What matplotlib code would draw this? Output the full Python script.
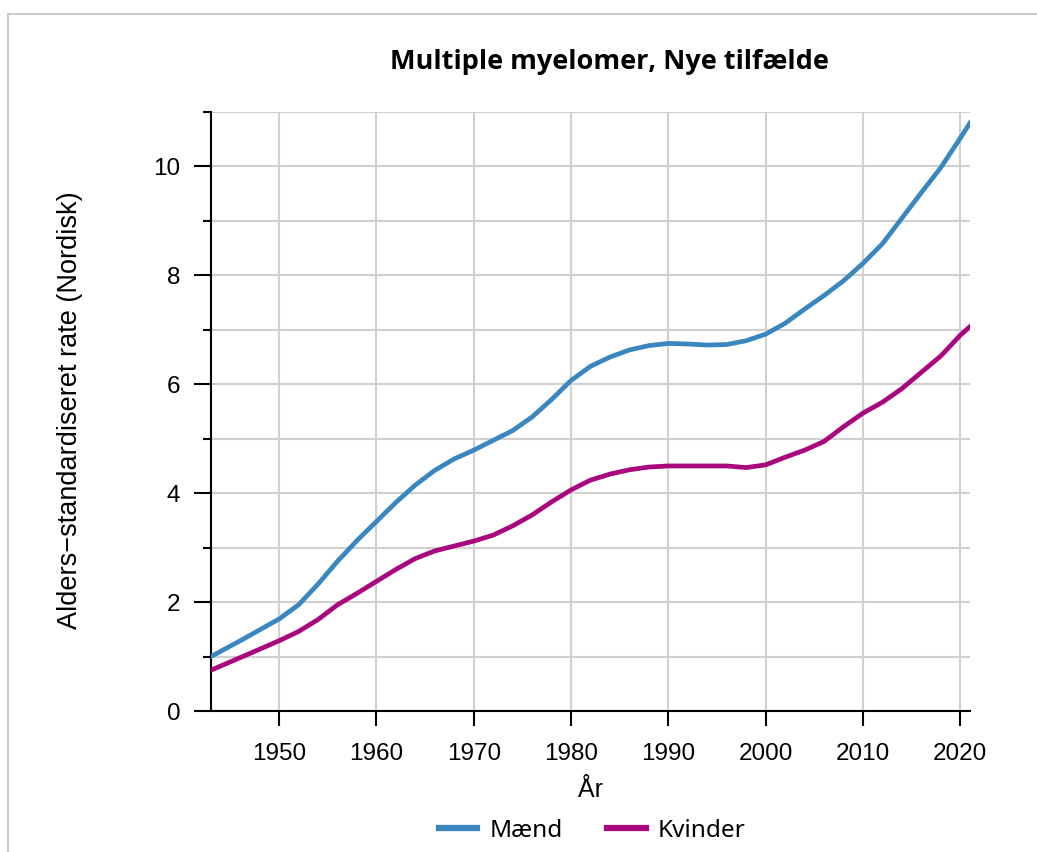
"""Multiple myelomer, nye tilfælde - age-standardised incidence rate, Denmark."""

import matplotlib.pyplot as plt
from matplotlib.lines import Line2D

# Smoothed age-standardised rates (Nordic standard)
years_m = [1943, 1946, 1950, 1952, 1954, 1956, 1958, 1960, 1962, 1964, 1966, 1968,
           1970, 1972, 1974, 1976, 1978, 1980, 1982, 1984, 1986, 1988, 1990, 1992,
           1994, 1996, 1998, 2000, 2002, 2004, 2006, 2008, 2010, 2012, 2014, 2016,
           2018, 2020, 2021]
maend = [1.00, 1.29, 1.69, 1.95, 2.33, 2.75, 3.13, 3.48, 3.83, 4.15, 4.42, 4.63,
         4.79, 4.97, 5.15, 5.40, 5.72, 6.07, 6.33, 6.50, 6.63, 6.71, 6.75, 6.74,
         6.72, 6.73, 6.80, 6.92, 7.12, 7.38, 7.63, 7.90, 8.22, 8.58, 9.05, 9.52,
         9.98, 10.52, 10.80]

years_k = years_m
kvinder = [0.75, 0.98, 1.29, 1.46, 1.68, 1.95, 2.16, 2.38, 2.60, 2.80, 2.94, 3.03,
           3.12, 3.23, 3.40, 3.60, 3.84, 4.06, 4.24, 4.35, 4.43, 4.48, 4.50, 4.50,
           4.50, 4.50, 4.47, 4.52, 4.66, 4.79, 4.95, 5.22, 5.47, 5.67, 5.92, 6.22,
           6.52, 6.90, 7.06]

blue = "#3a87c0"
purple = "#a8077e"
grid_col = "#d0d0d0"

fig = plt.figure(figsize=(10.37, 8.52), dpi=100)
ax = fig.add_axes([211 / 1037, 1 - 711 / 852, (970 - 211) / 1037, (711 - 112) / 852])

ax.plot(years_m, maend, color=blue, linewidth=3.4, solid_joinstyle="round", zorder=3)
ax.plot(years_k, kvinder, color=purple, linewidth=3.4, solid_joinstyle="round", zorder=3)

ax.set_xlim(1943, 2021)
ax.set_ylim(0, 11)
ax.set_xticks(range(1950, 2021, 10))
ax.set_yticks([0, 2, 4, 6, 8, 10])
ax.set_yticks([1, 3, 5, 7, 9, 11], minor=True)

ax.grid(True, which="both", axis="y", color=grid_col, linewidth=1.5)
ax.grid(True, which="major", axis="x", color=grid_col, linewidth=1.5)
ax.set_axisbelow(True)

for s in ["top", "right"]:
    ax.spines[s].set_visible(False)
for s in ["left", "bottom"]:
    ax.spines[s].set_linewidth(1.5)

tick_font = "Liberation Sans"
ax.tick_params(axis="y", which="major", length=12, width=1.5, labelsize=17.5, pad=10)
ax.tick_params(axis="y", which="minor", length=6, width=1.5)
ax.tick_params(axis="x", which="major", length=11, width=1.5, labelsize=17.5, pad=12)
for lab in ax.get_xticklabels() + ax.get_yticklabels():
    lab.set_fontfamily(tick_font)

fig.text(609 / 1037, 1 - 62 / 852, "Multiple myelomer, Nye tilfælde", ha="center",
         va="center", fontsize=19.5, fontweight="bold", family="Open Sans")
fig.text(70 / 1037, 1 - 410 / 852, "Alders\u2212standardiseret rate (Nordisk)",
         rotation=90, ha="center", va="center", fontsize=19.5, family=tick_font)
fig.text(590 / 1037, 1 - 790 / 852, "År", ha="center", va="center",
         fontsize=18, family=tick_font)

handles = [Line2D([], [], color=blue, linewidth=4.5),
           Line2D([], [], color=purple, linewidth=4.5)]
fig.legend(handles, ["Mænd", "Kvinder"], loc="center", ncol=2,
           bbox_to_anchor=(592 / 1037, 1 - 831 / 852), frameon=False,
           prop={"family": "Noto Sans", "size": 17.5}, handlelength=1.6,
           handletextpad=0.5, columnspacing=1.8)

# light grey frame around the figure
fig.add_artist(Line2D([8 / 1037, 8 / 1037], [0, 1 - 14 / 852], transform=fig.transFigure,
                      color="#cccccc", linewidth=1.5))
fig.add_artist(Line2D([8 / 1037, 1], [1 - 14 / 852, 1 - 14 / 852], transform=fig.transFigure,
                      color="#cccccc", linewidth=1.5))

fig.savefig("out.png", dpi=100)
